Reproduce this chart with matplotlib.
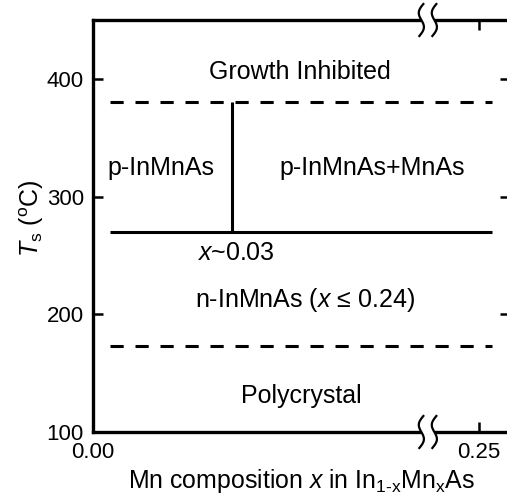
import numpy as np
import matplotlib
matplotlib.use("Agg")
import matplotlib.pyplot as plt
import matplotlib.transforms as mtransforms

plt.rcParams['font.family'] = ['Liberation Sans', 'DejaVu Sans']
plt.rcParams['mathtext.fontset'] = 'custom'
plt.rcParams['mathtext.rm'] = 'Liberation Sans'
plt.rcParams['mathtext.it'] = 'Liberation Sans:italic'
plt.rcParams['lines.scale_dashes'] = False

# Phase boundaries (growth temperature, deg C)
t_upper = 380          # above: growth inhibited
t_mnas = 270           # above: MnAs precipitates
t_poly = 173           # below: polycrystalline growth
x_solubility = 0.03    # p-InMnAs / p-InMnAs+MnAs boundary
x_line_start = 0.0037
x_line_end = 0.2615

x_ticks = [0.00, 0.25]
x_ticklabels = ['0.00', '0.25']
y_ticks = [100, 200, 300, 400]

# Broken composition axis: expanded region below x = 0.03
x_nodes = [0.0, 0.03, 0.25, 0.30]
u_nodes = [0.0, 0.36, 1.0, 1.1455]

def fwd(x):
    return np.interp(x, x_nodes, u_nodes)

def inv(u):
    return np.interp(u, u_nodes, x_nodes)

fig = plt.figure(figsize=(5.07, 4.99), dpi=100)
ax = fig.add_axes([93 / 507, 67 / 499, 417 / 507, 412 / 499])
ax.set_xscale('function', functions=(fwd, inv))
ax.set_xlim(0, 0.2775)
ax.set_ylim(100, 450)

lw = 2.2
dash = (0, (9.5, 8.5))
ax.plot([x_line_start, x_line_end], [t_upper, t_upper], color='black', lw=lw, linestyle=dash)
ax.plot([x_line_start, x_line_end], [t_poly, t_poly], color='black', lw=lw, linestyle=dash)
ax.plot([x_line_start, x_line_end], [t_mnas, t_mnas], color='black', lw=lw, solid_capstyle='butt')
ax.plot([x_solubility, x_solubility], [t_mnas, t_upper], color='black', lw=lw, solid_capstyle='butt')

for s in ax.spines.values():
    s.set_linewidth(2.4)

ax.set_xticks(x_ticks)
ax.set_xticklabels(x_ticklabels)
ax.set_yticks(y_ticks)
ax.tick_params(direction='in', length=7, width=1.8, labelsize=16,
               top=True, right=True)
ax.tick_params(axis='y', pad=6.5)
ax.tick_params(axis='x', pad=7)

# Region labels: x in axes fraction, y in temperature
tr = mtransforms.blended_transform_factory(ax.transAxes, ax.transData)
fs = 18
ax.text(0.496, 406, 'Growth Inhibited', transform=tr, ha='center', va='center', fontsize=fs)
ax.text(0.163, 324, 'p-InMnAs', transform=tr, ha='center', va='center', fontsize=fs)
ax.text(0.669, 324, 'p-InMnAs+MnAs', transform=tr, ha='center', va='center', fontsize=fs)
ax.text(0.343, 252, r'$x$~0.03', transform=tr, ha='center', va='center', fontsize=fs)
ax.text(0.508, 212, r'n-InMnAs ($x$ ≤ 0.24)', transform=tr, ha='center', va='center', fontsize=fs)
ax.text(0.499, 131, 'Polycrystal', transform=tr, ha='center', va='center', fontsize=fs)

ax.set_xlabel(r'Mn composition $x$ in In$_\mathrm{1\text{-}x}$Mn$_\mathrm{x}$As', fontsize=17.9, labelpad=3)
ax.set_ylabel(r'$T_\mathrm{s}$ ($^\mathrm{o}$C)', fontsize=18)
ax.yaxis.set_label_coords(-0.113, 0.519)

# Axis-break marks on top and bottom spines
bx = 0.803
hw = 13 / 417
amp = 3.5 / 417
hh = 16 / 412
t = np.linspace(-1, 1, 60)
for y0 in (0.0, 1.0):
    ax.plot([bx - hw / 2 - 0.002, bx + hw / 2 + 0.002], [y0, y0], color='white',
            lw=4, transform=ax.transAxes, clip_on=False, zorder=5,
            solid_capstyle='butt')
    for dx in (-hw / 2, hw / 2):
        xs = bx + dx - amp * np.sin(np.pi * t) + t * 2 / 417
        ys = y0 + t * hh
        ax.plot(xs, ys, color='black', lw=1.6, transform=ax.transAxes,
                clip_on=False, zorder=6)

fig.savefig('out.png', dpi=100)
